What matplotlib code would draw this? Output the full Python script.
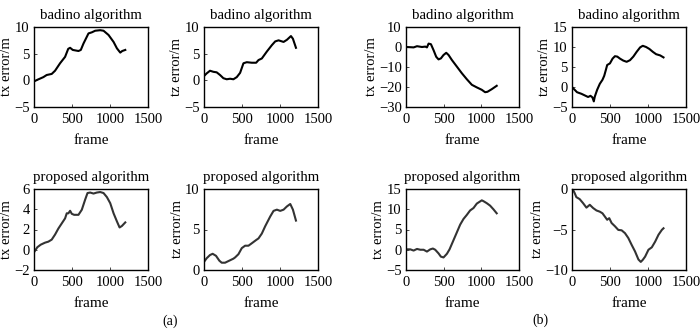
import matplotlib
matplotlib.use("Agg")
import matplotlib.pyplot as plt

plt.rcParams['font.family'] = ['Liberation Serif', 'DejaVu Serif']
plt.rcParams['font.size'] = 10
plt.rcParams['axes.unicode_minus'] = True

# (a) badino tx
a_bad_tx_f = [0, 44, 123, 167, 233, 277, 343, 409, 450, 475, 510, 585, 616, 651, 717, 761, 805, 871, 915, 981, 1047, 1091, 1135, 1161, 1201]
a_bad_tx_v = [-0.2, 0.1, 0.6, 1.0, 1.2, 1.8, 3.2, 4.4, 5.9, 6.1, 5.7, 5.5, 5.7, 6.9, 8.8, 9.0, 9.3, 9.4, 9.3, 8.5, 7.2, 6.0, 5.2, 5.5, 5.7]
# (a) badino tz
a_bad_tz_f = [0, 35, 79, 123, 167, 211, 255, 299, 343, 387, 431, 475, 519, 563, 629, 686, 717, 761, 827, 893, 937, 981, 1047, 1091, 1144, 1170, 1210]
a_bad_tz_v = [0.8, 1.3, 1.8, 1.6, 1.5, 1.0, 0.4, 0.2, 0.3, 0.2, 0.6, 1.4, 3.2, 3.4, 3.3, 3.3, 3.8, 4.1, 5.4, 6.6, 7.3, 7.5, 7.2, 7.6, 8.3, 7.8, 6.1]
# (a) proposed tx
a_pro_tx_f = [0, 44, 88, 145, 189, 233, 277, 321, 365, 409, 431, 453, 475, 497, 528, 585, 629, 673, 704, 739, 783, 827, 871, 915, 959, 1003, 1047, 1091, 1126, 1157, 1201]
a_pro_tx_v = [-0.25, 0.25, 0.5, 0.7, 0.8, 1.0, 1.5, 2.1, 2.6, 3.1, 3.6, 3.6, 3.85, 3.55, 3.45, 3.45, 3.95, 4.95, 5.6, 5.65, 5.55, 5.65, 5.7, 5.6, 5.2, 4.6, 3.6, 2.8, 2.2, 2.35, 2.7]
# (a) proposed tz
a_pro_tz_f = [0, 35, 79, 114, 158, 202, 233, 277, 321, 365, 387, 409, 453, 497, 541, 585, 629, 686, 717, 761, 805, 871, 915, 959, 1003, 1047, 1091, 1135, 1170, 1210]
a_pro_tz_v = [1.0, 1.45, 1.85, 2.0, 1.75, 1.15, 0.9, 0.9, 1.1, 1.3, 1.4, 1.55, 1.95, 2.7, 3.0, 3.0, 3.3, 3.7, 3.9, 4.5, 5.4, 6.6, 7.3, 7.45, 7.3, 7.45, 7.85, 8.15, 7.45, 6.1]

# (b) badino tx
b_bad_tx_f = [0, 57, 101, 146, 212, 256, 278, 300, 331, 366, 401, 432, 463, 498, 534, 565, 609, 675, 741, 807, 874, 940, 1006, 1050, 1081, 1138, 1204]
b_bad_tx_v = [0, -0.1, -0.2, 0.4, 0, 0.2, -0.2, 1.7, 1.4, -1.6, -4.9, -6.2, -5.7, -4.0, -2.9, -4.0, -6.5, -9.8, -13.1, -16.1, -18.9, -20.2, -21.4, -22.6, -22.4, -21.1, -19.4]
# (b) badino tz
b_bad_tz_f = [0, 35, 66, 124, 168, 212, 243, 269, 287, 300, 331, 366, 401, 424, 446, 463, 499, 534, 565, 596, 631, 675, 719, 763, 807, 851, 896, 931, 975, 1019, 1063, 1107, 1160, 1204]
b_bad_tz_v = [0, -0.7, -1.3, -1.7, -2.1, -2.5, -2.2, -2.6, -3.6, -2.4, -0.7, 0.8, 1.8, 2.8, 4.3, 5.5, 5.9, 7.1, 7.7, 7.6, 7.1, 6.6, 6.3, 6.7, 7.6, 8.8, 9.9, 10.3, 10.0, 9.5, 8.8, 8.2, 7.9, 7.4]
# (b) proposed tx
b_pro_tx_f = [0, 57, 101, 146, 190, 234, 278, 322, 357, 388, 432, 463, 498, 543, 578, 622, 666, 719, 763, 807, 851, 896, 940, 1006, 1028, 1072, 1116, 1160, 1204]
b_pro_tx_v = [0.1, 0.1, -0.2, 0.2, 0, 0, -0.45, 0.1, 0.3, 0, -0.9, -1.7, -1.9, -1.0, 0.1, 2.0, 3.9, 6.2, 7.6, 8.6, 9.7, 10.3, 11.4, 12.2, 12.0, 11.5, 10.9, 10.0, 9.0]
# (b) proposed tz
b_pro_tz_f = [0, 13, 35, 57, 101, 146, 190, 234, 278, 322, 366, 401, 432, 463, 490, 521, 565, 609, 653, 697, 741, 785, 829, 874, 905, 931, 962, 1006, 1050, 1094, 1138, 1182, 1204]
b_pro_tz_v = [0, -0.1, -0.5, -1.0, -1.25, -1.75, -2.3, -1.95, -2.35, -2.65, -2.8, -3.0, -3.4, -3.8, -3.6, -4.2, -4.6, -5.05, -5.1, -5.45, -6.05, -6.9, -7.7, -8.7, -9.0, -8.75, -8.35, -7.5, -7.2, -6.5, -5.65, -5.05, -4.85]

W, H = 700, 334
fig = plt.figure(figsize=(W / 100, H / 100), dpi=100)


def make_ax(x0, x1, ytop, ybot):
    return fig.add_axes([x0 / W, 1 - ybot / H, (x1 - x0) / W, (ybot - ytop) / H])


cols = [(34, 148), (204, 318), (406, 519), (572, 686)]
rows = [(27, 107), (189, 270)]

panels = [
    # row, col, frames, values, ylabel, title, ylim, yticks, color
    (0, 0, a_bad_tx_f, a_bad_tx_v, 'tx error/m', 'badino algorithm', (-5, 10), [-5, 0, 5, 10], 'black'),
    (0, 1, a_bad_tz_f, a_bad_tz_v, 'tz error/m', 'badino algorithm', (-5, 10), [-5, 0, 5, 10], 'black'),
    (0, 2, b_bad_tx_f, b_bad_tx_v, 'tx error/m', 'badino algorithm', (-30, 10), [-30, -20, -10, 0, 10], 'black'),
    (0, 3, b_bad_tz_f, b_bad_tz_v, 'tz error/m', 'badino algorithm', (-5, 15), [-5, 0, 5, 10, 15], 'black'),
    (1, 0, a_pro_tx_f, a_pro_tx_v, 'tx error/m', 'proposed algorithm', (-2, 6), [-2, 0, 2, 4, 6], '#333333'),
    (1, 1, a_pro_tz_f, a_pro_tz_v, 'tz error/m', 'proposed algorithm', (0, 10), [0, 5, 10], '#333333'),
    (1, 2, b_pro_tx_f, b_pro_tx_v, 'tx error/m', 'proposed algorithm', (-5, 15), [-5, 0, 5, 10, 15], '#333333'),
    (1, 3, b_pro_tz_f, b_pro_tz_v, 'tz error/m', 'proposed algorithm', (-10, 0), [-10, -5, 0], '#333333'),
]

for r, c, fr, val, ylab, title, ylim, yt, col in panels:
    ax = make_ax(cols[c][0], cols[c][1], rows[r][0], rows[r][1])
    ax.plot(fr, val, color=col, lw=1.5)
    ax.set_xlim(0, 1500)
    ax.set_ylim(*ylim)
    ax.set_xticks([0, 500, 1000, 1500])
    ax.set_yticks(yt)
    ax.tick_params(direction='in', length=2, width=0.5, pad=3, labelsize=10.5)
    ax.tick_params(axis='x', pad=4)
    for s in ax.spines.values():
        s.set_linewidth(1.0)
    ax.set_title(title, pad=6, fontsize=10.7)
    ax.set_ylabel(ylab, labelpad=1, fontsize=10.5)
    ax.set_xlabel('frame', labelpad=6, fontsize=11)

fig.text(170 / W, 1 - 321 / H, '(a)', ha='center', va='center', fontsize=10)
fig.text(540 / W, 1 - 320 / H, '(b)', ha='center', va='center', fontsize=10)

fig.savefig('out.png', dpi=100)
